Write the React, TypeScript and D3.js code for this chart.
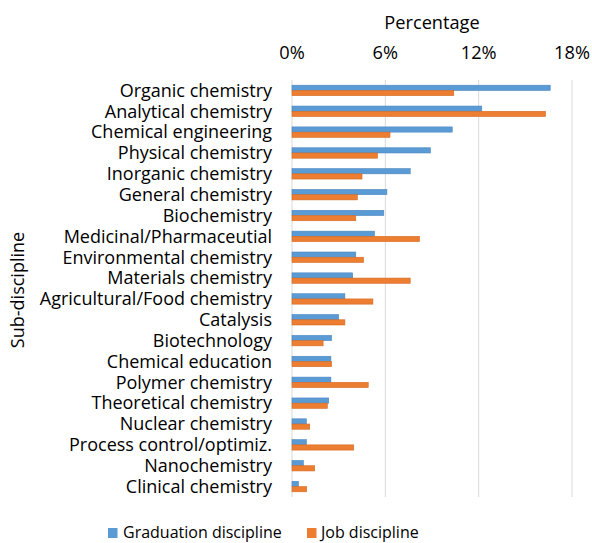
import React from "react";
import * as d3 from "d3";

const categories = [
  "Organic chemistry",
  "Analytical chemistry",
  "Chemical engineering",
  "Physical chemistry",
  "Inorganic chemistry",
  "General chemistry",
  "Biochemistry",
  "Medicinal/Pharmaceutial",
  "Environmental chemistry",
  "Materials chemistry",
  "Agricultural/Food chemistry",
  "Catalysis",
  "Biotechnology",
  "Chemical education",
  "Polymer chemistry",
  "Theoretical chemistry",
  "Nuclear chemistry",
  "Process control/optimiz.",
  "Nanochemistry",
  "Clinical chemistry",
];
const graduation = [16.6, 12.2, 10.3, 8.9, 7.6, 6.1, 5.9, 5.3, 4.1, 3.9, 3.4, 3.0, 2.55, 2.5, 2.5, 2.36, 0.92, 0.92, 0.73, 0.41];
const job = [10.4, 16.3, 6.3, 5.5, 4.5, 4.2, 4.1, 8.2, 4.6, 7.6, 5.2, 3.4, 2.0, 2.55, 4.9, 2.27, 1.14, 3.97, 1.46, 0.94];
const ticks = [0, 6, 12, 18];
const seriesNames = ["Graduation discipline", "Job discipline"];
const colors = ["#5B9BD5", "#ED7D31"];
const strokes = ["#4a86c0", "#d46a22"];

const W = 592, H = 543;
const font = "'Open Sans', sans-serif";

export default function App() {
  const x = d3.scaleLinear().domain([0, 18]).range([292, 572]);
  const y = d3.scaleBand().domain(categories).range([80, 497]).paddingInner(0.5).paddingOuter(0.25);
  const sub = d3.scaleBand().domain(["g", "j"]).range([0, y.bandwidth()]);
  const series = [graduation, job];
  return (
    <svg width={W} height={H} style={{ position: "absolute", left: 0, top: 0, background: "#fff" }} fontFamily={font}>
      <text x={432} y={29} textAnchor="middle" fontSize={18.2} fill="#000">Percentage</text>
      {ticks.map((t) => (
        <g key={t}>
          <line x1={x(t)} x2={x(t)} y1={80} y2={497} stroke="#d9d9d9" strokeWidth={1} />
          <text x={x(t)} y={59} textAnchor="middle" fontSize={18.2} fill="#000">{t}%</text>
        </g>
      ))}
      {categories.map((c, i) => (
        <g key={c}>
          <text x={272} y={(y(c) as number) + y.bandwidth() / 2} dy="0.35em" textAnchor="end" fontSize={18} fill="#000">{c}</text>
          {series.map((s, k) => (
            <rect key={k} x={x(0)} y={(y(c) as number) + (sub(k === 0 ? "g" : "j") as number)} width={x(s[i]) - x(0)} height={sub.bandwidth()} fill={colors[k]} stroke={strokes[k]} strokeWidth={0.6} />
          ))}
        </g>
      ))}
      <text transform={`translate(24,290) rotate(-90)`} textAnchor="middle" fontSize={18} fill="#000">Sub-discipline</text>
      <g>
        <rect x={108} y={528} width={9.5} height={10} fill={colors[0]} />
        <text x={123} y={538} fontSize={16} fill="#000">{seriesNames[0]}</text>
        <rect x={307} y={528} width={9.5} height={10} fill={colors[1]} />
        <text x={321} y={538} fontSize={16} fill="#000">{seriesNames[1]}</text>
      </g>
    </svg>
  );
}
